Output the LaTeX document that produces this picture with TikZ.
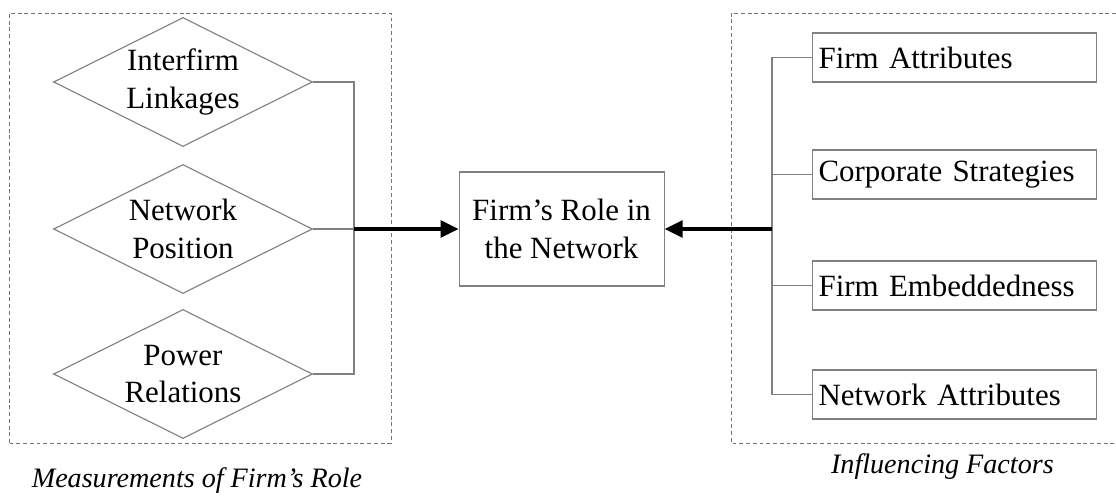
\documentclass[tikz,border=0pt]{standalone}
\usepackage{fontspec}
\setmainfont{Liberation Serif}
\usetikzlibrary{arrows.meta,positioning,shapes.geometric}
\definecolor{LineGray}{gray}{0.5}
\definecolor{FrameGray}{gray}{0.45}
\tikzset{
  figure/.style={font=\fontsize{22}{26.5}\selectfont,text=black},
  measure/.style={diamond,draw=LineGray,line width=0.8pt,aspect=2,inner sep=0pt,
    minimum width=6.475cm,minimum height=3.225cm,align=center},
  rolebox/.style={draw=LineGray,line width=0.8pt,minimum width=5.125cm,
    minimum height=2.85cm,align=center,font=\fontsize{22}{27}\selectfont},
  factor/.style={draw=LineGray,line width=0.8pt,anchor=west,inner xsep=0.15cm,
    text width=6.8cm,minimum height=1.225cm,align=left},
  frame/.style={draw=FrameGray,line width=0.7pt,dash pattern=on 2.8pt off 2pt},
  link/.style={draw=LineGray,line width=0.8pt},
  flow/.style={-{Triangle[length=4.5mm,width=4.2mm]},line width=2.6pt,draw=black},
  caption/.style={anchor=base,font=\fontsize{20}{24}\selectfont\itshape},
}
\begin{document}
\begin{tikzpicture}[figure]
  \useasboundingbox (0,0) rectangle (27.9,12.375);

  % dashed groups
  \draw[frame] (0.225,1.3) rectangle (9.775,12.05);
  \draw[frame] (27.9,12.05) -- (18.275,12.05) -- (18.275,1.3) -- (27.9,1.3);

  % measurements
  \node[measure] (linkages) at (4.575,10.325) {Interfirm\\Linkages};
  \node[measure] (position) at (4.575,6.65) {Network\\Position};
  \node[measure] (power) at (4.575,3.025) {Power\\Relations};

  % centre
  \node[rolebox] (role) at (14.04,6.65) {Firm’s Role in\\the Network};

  % influencing factors
  \node[factor] (firmattr) at (20.3,10.9375) {Firm Attributes};
  \node[factor] (strategies) at (20.3,8.0125) {Corporate Strategies};
  \node[factor] (embedded) at (20.3,5.2375) {Firm Embeddedness};
  \node[factor] (netattr) at (20.3,2.5125) {Network Attributes};

  \coordinate (leftjoin) at (8.85,6.65);
  \coordinate (rightjoin) at (19.3,6.65);

  \draw[link] (linkages.east) -| (leftjoin) |- (power.east);
  \draw[link] (position.east) -- (leftjoin);
  \draw[flow] (leftjoin) -- (role.west);

  \draw[link] (firmattr.west) -| (rightjoin) |- (netattr.west);
  \draw[link] (strategies.west) -- (strategies.west -| rightjoin);
  \draw[link] (embedded.west) -- (embedded.west -| rightjoin);
  \draw[flow] (rightjoin) -- (role.east);

  % captions
  \node[caption] (measurecap) at (4.925,0.2) {Measurements of Firm’s Role};
  \node[caption] (factorcap) at (23.56,0.55) {Influencing Factors};
\end{tikzpicture}
\end{document}
